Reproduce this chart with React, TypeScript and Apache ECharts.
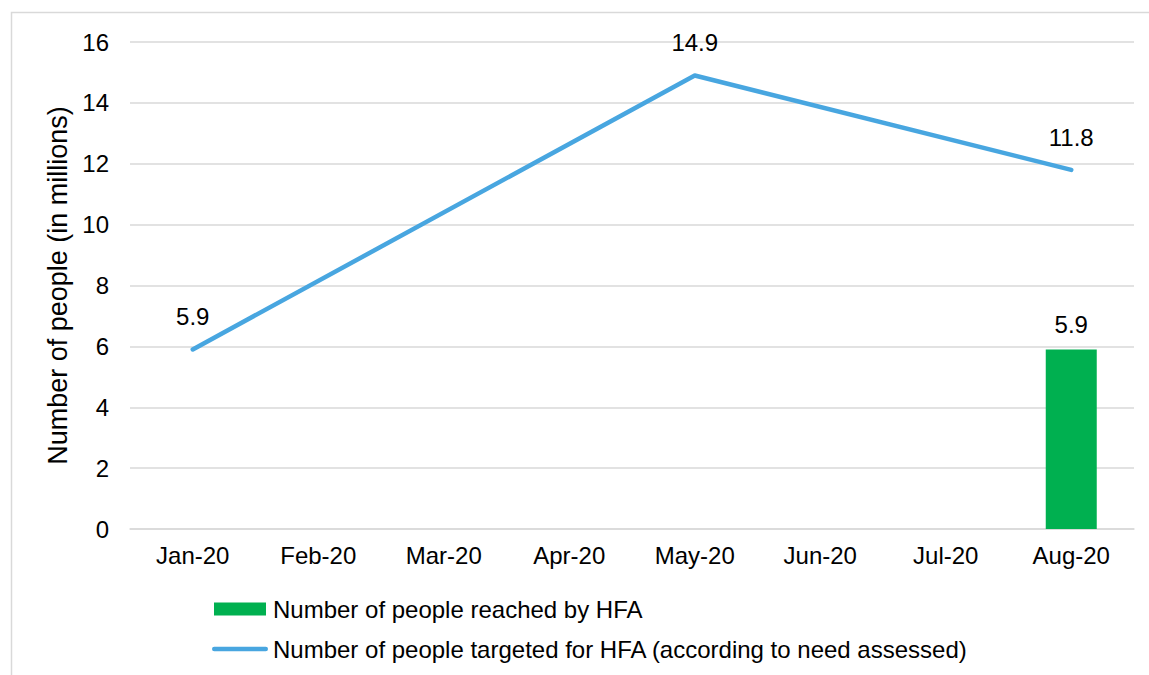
import React, { useEffect, useRef } from "react";
import * as echarts from "echarts";

const categories = ["Jan-20", "Feb-20", "Mar-20", "Apr-20", "May-20", "Jun-20", "Jul-20", "Aug-20"];
const reachedValues: (number | null)[] = [null, null, null, null, null, null, null, 5.9];
const targetedValues: (number | null)[] = [5.9, null, null, null, 14.9, null, null, 11.8];
const reachedName = "Number of people reached by HFA";
const targetedName = "Number of people targeted for HFA (according to need assessed)";
const yAxisName = "Number of people (in millions)";

const FONT = "'Liberation Sans', Arial, sans-serif";

export default function App() {
  const ref = useRef<HTMLDivElement>(null);
  useEffect(() => {
    if (!ref.current) return;
    const chart = echarts.init(ref.current, undefined, { renderer: "svg" });
    chart.setOption({
      animation: false,
      backgroundColor: "#ffffff",
      textStyle: { fontFamily: FONT, color: "#000" },
      graphic: [
        {
          type: "rect",
          shape: { x: 11.5, y: 12.5, width: 1145, height: 700 },
          style: { fill: "none", stroke: "#d9d9d9", lineWidth: 1.5 },
          silent: true,
        },
      ],
      grid: { left: 130, right: 15, top: 42, bottom: 146, containLabel: false },
      legend: {
        orient: "vertical",
        left: 207,
        top: 592,
        itemWidth: 56,
        itemHeight: 13,
        itemGap: 16,
        symbolKeepAspect: true,
        textStyle: { fontFamily: FONT, fontSize: 24, color: "#000" },
        data: [
          { name: reachedName, icon: "path://M0,0 H52 V13 H0 Z" },
          { name: targetedName, icon: "path://M2.25,0 H53.75 A2.25,2.25 0 0 1 53.75,4.5 H2.25 A2.25,2.25 0 0 1 2.25,0 Z" },
        ],
      },
      xAxis: {
        type: "category",
        data: categories,
        boundaryGap: true,
        axisLine: { show: true, lineStyle: { color: "#d9d9d9", width: 1.5 } },
        axisTick: { show: false },
        axisLabel: { fontFamily: FONT, fontSize: 24, color: "#000", margin: 14, interval: 0 },
        splitLine: { show: false },
      },
      yAxis: {
        type: "value",
        min: 0,
        max: 16,
        interval: 2,
        name: yAxisName,
        nameLocation: "middle",
        nameGap: 57,
        nameRotate: 90,
        nameTextStyle: { fontFamily: FONT, fontSize: 27, color: "#000" },
        axisLine: { show: false },
        axisTick: { show: false },
        axisLabel: { fontFamily: FONT, fontSize: 24, color: "#000", margin: 21 },
        splitLine: { show: true, lineStyle: { color: "#d9d9d9", width: 1.5 } },
      },
      series: [
        {
          name: reachedName,
          type: "bar",
          data: reachedValues,
          barWidth: 51,
          itemStyle: { color: "#00b050" },
          label: {
            show: true,
            position: "top",
            distance: 13,
            fontFamily: FONT,
            fontSize: 24,
            color: "#000",
            formatter: (p: any) => (p.value == null ? "" : Number(p.value).toFixed(1)),
          },
        },
        {
          name: targetedName,
          type: "line",
          data: targetedValues,
          connectNulls: true,
          symbol: "circle",
          symbolSize: 1,
          showSymbol: true,
          itemStyle: { color: "#48a6e0" },
          lineStyle: { color: "#48a6e0", width: 4.5, cap: "round", join: "round" },
          label: {
            show: true,
            position: "top",
            distance: 20,
            fontFamily: FONT,
            fontSize: 24,
            color: "#000",
            formatter: (p: any) => (p.value == null ? "" : Number(p.value).toFixed(1)),
          },
        },
      ],
    });
    return () => chart.dispose();
  }, []);
  return (
    <div
      ref={ref}
      style={{ position: "absolute", left: 0, top: 0, width: 1149, height: 675 }}
    />
  );
}
